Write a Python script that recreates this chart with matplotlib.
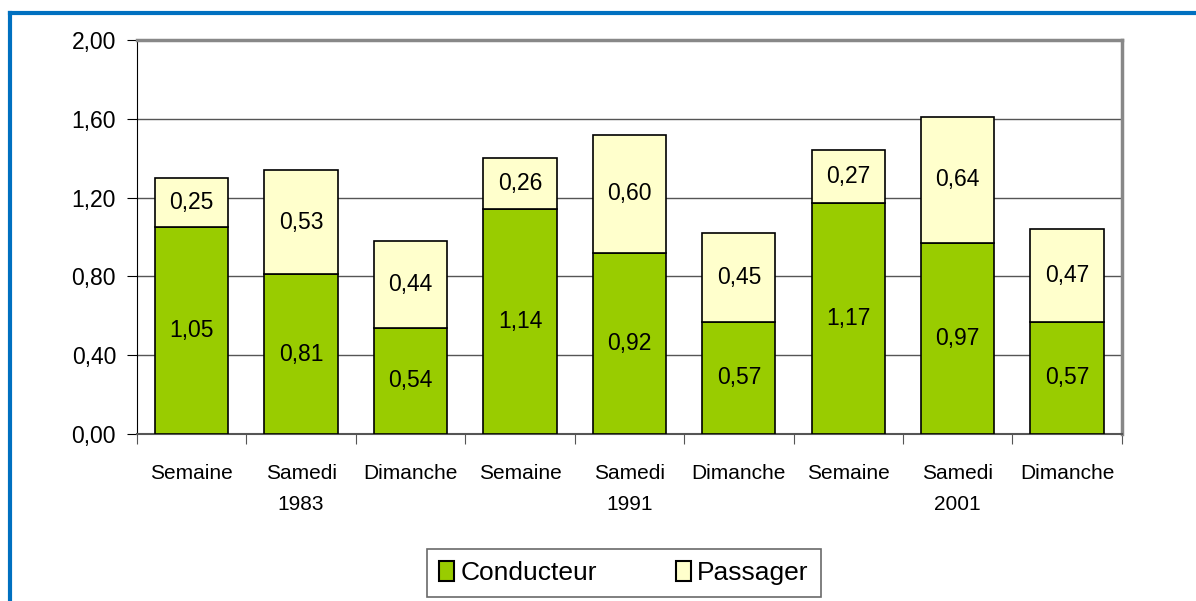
import matplotlib.pyplot as plt
import numpy as np
from matplotlib.lines import Line2D
from matplotlib.patches import Patch

plt.rcParams['font.family'] = ['Liberation Sans', 'DejaVu Sans']

# Données
categories = ['Semaine', 'Samedi\n1983', 'Dimanche', 'Semaine', 'Samedi\n1991',
              'Dimanche', 'Semaine', 'Samedi\n2001', 'Dimanche']
conducteur = [1.05, 0.81, 0.54, 1.14, 0.92, 0.57, 1.17, 0.97, 0.57]
passager = [0.25, 0.53, 0.44, 0.26, 0.60, 0.45, 0.27, 0.64, 0.47]
yticks = [0.0, 0.4, 0.8, 1.2, 1.6, 2.0]

green = '#99CC00'
cream = '#FFFFCC'

fig = plt.figure(figsize=(11.96, 6.01), dpi=100)
ax = fig.add_axes([0.1145, 0.278, 0.8235, 0.6555])

x = np.arange(len(categories))
w = 0.67
ax.bar(x, conducteur, w, color=green, edgecolor='black', linewidth=1.2, zorder=3)
ax.bar(x, passager, w, bottom=conducteur, color=cream, edgecolor='black', linewidth=1.2, zorder=3)

for i in range(len(x)):
    ax.text(x[i], conducteur[i] / 2, f"{conducteur[i]:.2f}".replace('.', ','),
            ha='center', va='center', fontsize=16.5, zorder=4)
    ax.text(x[i], conducteur[i] + passager[i] / 2, f"{passager[i]:.2f}".replace('.', ','),
            ha='center', va='center', fontsize=16.5, zorder=4)

ax.set_xlim(-0.5, len(x) - 0.5)
ax.set_ylim(0, 2.0)
ax.set_yticks(yticks)
ax.set_yticklabels([f"{v:.2f}".replace('.', ',') for v in yticks], fontsize=16.5)
ax.yaxis.grid(True, color='#555555', linewidth=1, zorder=0)

# ticks x aux limites des catégories
ax.set_xticks(np.arange(-0.5, len(x), 1.0))
ax.set_xticklabels([])
ax.set_xticks(x, minor=True)
ax.set_xticklabels(categories, minor=True, fontsize=15, linespacing=1.75)
ax.tick_params(axis='x', which='minor', length=0, pad=22)
ax.tick_params(axis='x', which='major', length=7, color='#555555', direction='out')
ax.tick_params(axis='y', length=7, direction='out', pad=8)

for s in ['top', 'right']:
    ax.spines[s].set_color('#888888')
    ax.spines[s].set_linewidth(2.5)
ax.spines['left'].set_color('black')
ax.spines['bottom'].set_color('#555555')
ax.spines['bottom'].set_linewidth(1.5)

handles = [Patch(facecolor=green, edgecolor='black', linewidth=1.5),
           Patch(facecolor=cream, edgecolor='black', linewidth=1.5)]
leg = fig.legend(handles, ['Conducteur', 'Passager'], loc='center',
                 bbox_to_anchor=(624 / 1196, 1 - 573 / 601),
                 ncol=2, fontsize=19, frameon=True, fancybox=False,
                 handlelength=0.55, handleheight=0.8, handletextpad=0.25,
                 columnspacing=3.0, borderpad=0.45, borderaxespad=0)
leg.get_frame().set_edgecolor('#444444')
leg.get_frame().set_linewidth(1.2)

# cadre bleu
fig.add_artist(Line2D([10 / 1196, 1], [1 - 13 / 601, 1 - 13 / 601], color='#0070C0', linewidth=3))
fig.add_artist(Line2D([10 / 1196, 10 / 1196], [0, 1 - 13 / 601], color='#0070C0', linewidth=3))

fig.savefig('out.png', dpi=100)
